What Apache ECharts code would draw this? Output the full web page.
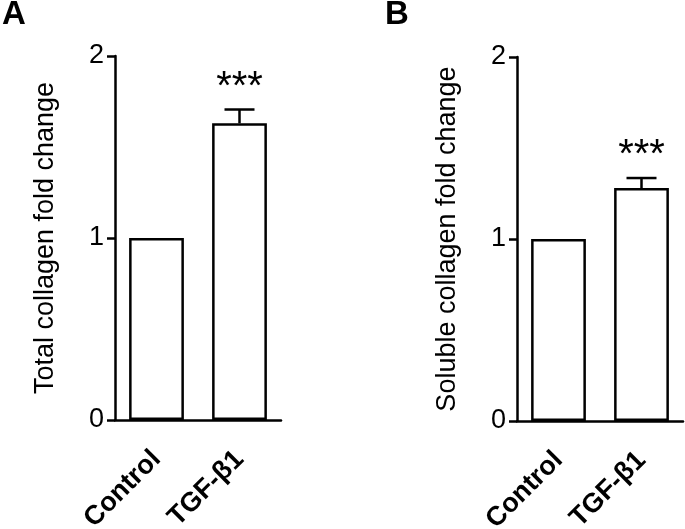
<!DOCTYPE html>
<html>
<head>
<meta charset="utf-8">
<script src="https://cdn.jsdelivr.net/npm/echarts@6/dist/echarts.min.js"></script>
<style>
  html, body { margin: 0; padding: 0; background: #fff; }
  #chart { width: 685px; height: 529px; }
</style>
</head>
<body>
<div id="chart"></div>
<script>
// values
const categories = ['Control', 'TGF-β1'];
const totalMean = [1, 1.63];
const totalErr = [0, 0.076];
const solubleMean = [1, 1.28];
const solubleErr = [0, 0.055];
const sigLabels = ['', '***'];
const yMin = 0, yMax = 2, yStep = 1;

const FONT = '"Liberation Sans", Arial, sans-serif';

function errorSeries(idx, means, errs) {
  return {
    type: 'custom',
    xAxisIndex: idx,
    yAxisIndex: idx,
    z: 5,
    data: means.map(function (m, i) { return [i, m, errs[i]]; }),
    renderItem: function (params, api) {
      var x = api.value(0), v = api.value(1), e = api.value(2);
      var base = api.coord([x, v]);
      var top = api.coord([x, v + e]);
      var st = { stroke: '#000', lineWidth: 2.5 };
      var kids = [];
      if (e > 0) {
        kids.push({ type: 'line', shape: { x1: top[0], y1: base[1], x2: top[0], y2: top[1] }, style: st });
        kids.push({ type: 'line', shape: { x1: top[0] - 15, y1: top[1], x2: top[0] + 15, y2: top[1] }, style: st });
      }
      kids.push({
        type: 'text',
        style: {
          text: sigLabels[params.dataIndex],
          x: top[0], y: top[1] - 2,
          align: 'center', verticalAlign: 'bottom',
          font: '40px ' + FONT, fill: '#000'
        }
      });
      return { type: 'group', children: kids };
    }
  };
}

function xAx(idx) {
  return {
    type: 'category', gridIndex: idx, data: categories,
    axisLine: { lineStyle: { color: '#000', width: 2.5 } },
    axisTick: { alignWithLabel: true, length: 9, lineStyle: { color: '#000', width: 2.5 } },
    axisLabel: { rotate: 45, margin: 35, color: '#000', fontSize: 27, fontWeight: 'bold', fontFamily: FONT }
  };
}

function yAx(idx, name) {
  return {
    type: 'value', gridIndex: idx, min: yMin, max: yMax, interval: yStep,
    name: name, nameLocation: 'middle', nameGap: 56, nameRotate: 90,
    nameTextStyle: { color: '#000', fontSize: 27, fontFamily: FONT },
    splitLine: { show: false },
    axisLine: { show: true, lineStyle: { color: '#000', width: 2.5 } },
    axisTick: { show: true, length: 8, lineStyle: { color: '#000', width: 2.5 } },
    axisLabel: { margin: 11, color: '#000', fontSize: 27, fontFamily: FONT }
  };
}

function barSeries(idx, means) {
  return {
    type: 'bar', xAxisIndex: idx, yAxisIndex: idx, data: means,
    barWidth: '66%',
    itemStyle: { color: '#fff', borderColor: '#000', borderWidth: 2.5 },
    silent: true
  };
}

const chart = echarts.init(document.getElementById('chart'));
chart.setOption({
  animation: false,
  backgroundColor: '#fff',
  title: [
    { text: 'A', left: 2, top: -2, padding: 0, textStyle: { fontSize: 33, fontWeight: 'bold', fontFamily: FONT, color: '#000' } },
    { text: 'B', left: 385, top: -2, padding: 0, textStyle: { fontSize: 33, fontWeight: 'bold', fontFamily: FONT, color: '#000' } }
  ],
  grid: [
    { left: 115, right: 404, top: 56, bottom: 109, containLabel: false, outerBoundsMode: 'none' },
    { left: 517, right: 2, top: 57, bottom: 108, containLabel: false, outerBoundsMode: 'none' }
  ],
  xAxis: [xAx(0), xAx(1)],
  yAxis: [yAx(0, 'Total collagen fold change'), yAx(1, 'Soluble collagen fold change')],
  series: [
    barSeries(0, totalMean),
    errorSeries(0, totalMean, totalErr),
    barSeries(1, solubleMean),
    errorSeries(1, solubleMean, solubleErr)
  ]
});
</script>
</body>
</html>
